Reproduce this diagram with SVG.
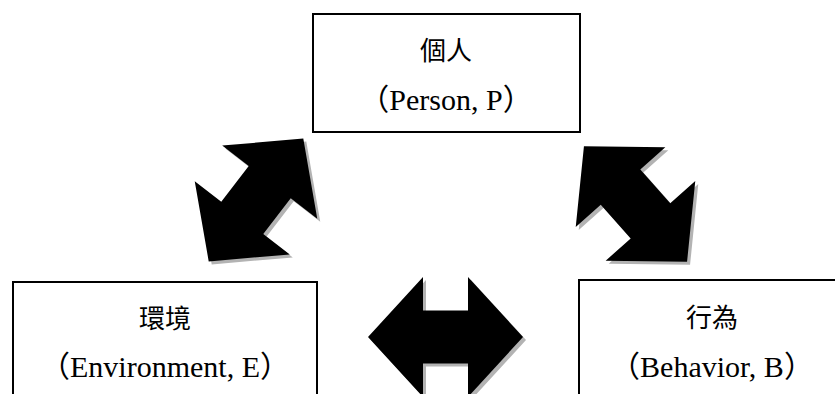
<svg xmlns="http://www.w3.org/2000/svg" xmlns:xlink="http://www.w3.org/1999/xlink" width="835" height="394" viewBox="0 0 835 394">
  <style>
    .box { fill: #ffffff; stroke: #000000; stroke-width: 2; }
    .cjk { font-family: "Liberation Serif", "Noto Sans CJK TC", serif; font-size: 26px; fill: #000000; text-anchor: middle; }
    .lat { font-family: "Liberation Serif", "Noto Sans CJK TC", serif; font-size: 30px; fill: #000000; text-anchor: middle; }
    .shadow { fill: #b3b3b3; }
    .arrow { fill: #000000; }
  </style>
  <defs>
    <!-- double-headed block arrow, centred on the origin, pointing along x -->
    <path id="dbl" d="M-77.5,0 L-22.5,-60 L-22.5,-26.5 L22.5,-26.5 L22.5,-60 L77.5,0 L22.5,60 L22.5,26.5 L-22.5,26.5 L-22.5,60 Z"/>
  </defs>

  <rect width="835" height="394" fill="#ffffff"/>

  <g id="connectors">
    <g id="arrow-p-e" transform="translate(256,200) rotate(-52.4)">
      <use xlink:href="#dbl" class="shadow" transform="rotate(52.4) translate(3,3) rotate(-52.4)"/>
      <use xlink:href="#dbl" class="arrow"/>
    </g>
    <g id="arrow-p-b" transform="translate(635.5,204) rotate(48.3)">
      <use xlink:href="#dbl" class="shadow" transform="rotate(-48.3) translate(3,3) rotate(48.3)"/>
      <use xlink:href="#dbl" class="arrow"/>
    </g>
    <g id="arrow-e-b" transform="translate(445.5,337)">
      <use xlink:href="#dbl" class="shadow" transform="translate(3,3)"/>
      <use xlink:href="#dbl" class="arrow"/>
    </g>
  </g>

  <g id="person">
    <rect class="box" x="313" y="14" width="267" height="118"/>
    <text class="cjk" x="446" y="60">個人</text>
    <text class="lat" x="446" y="110">（Person, P）</text>
  </g>

  <g id="environment">
    <rect class="box" x="13" y="282" width="304" height="130"/>
    <text class="cjk" x="165" y="328">環境</text>
    <text class="lat" x="165" y="377">（Environment, E）</text>
  </g>

  <g id="behavior">
    <rect class="box" x="579" y="280" width="270" height="130"/>
    <text class="cjk" x="712" y="327">行為</text>
    <text class="lat" x="712" y="377">（Behavior, B）</text>
  </g>
</svg>
